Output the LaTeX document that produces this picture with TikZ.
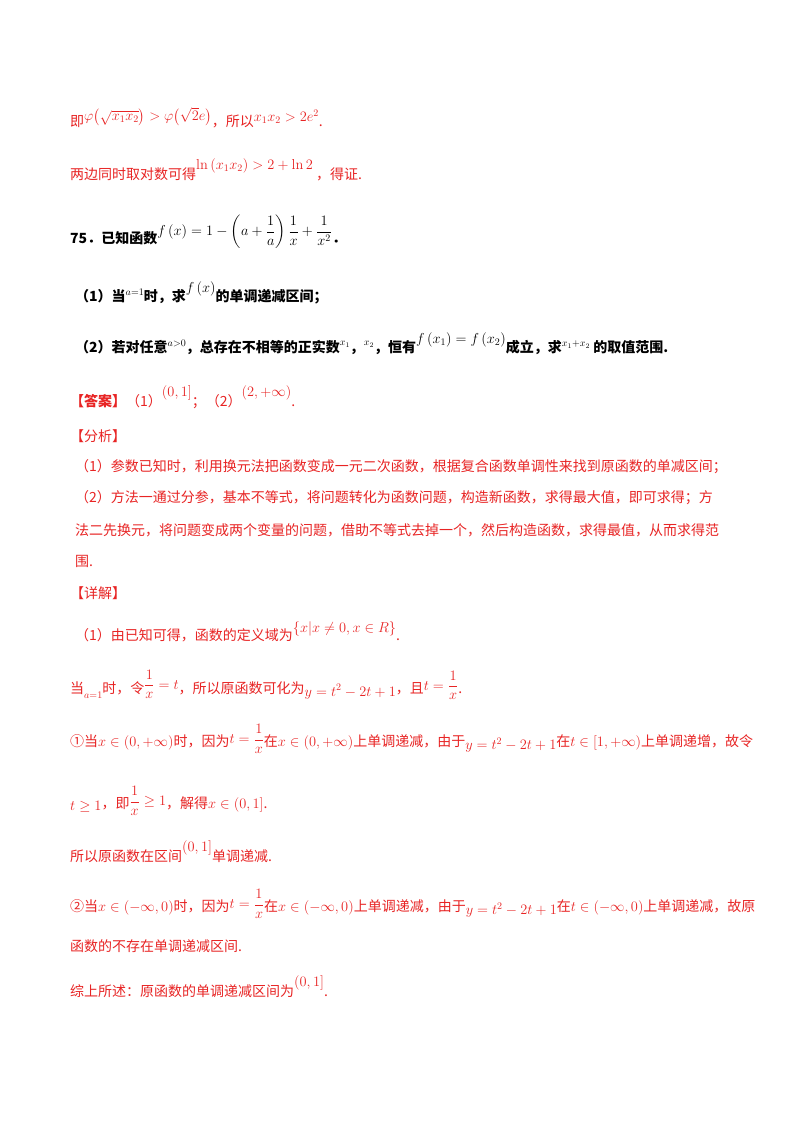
\documentclass[tikz,border=0pt]{standalone}
\usepackage[no-math]{fontspec}
\setmainfont{Noto Sans CJK SC}
\usepackage{amsmath,amssymb}
\definecolor{rd}{RGB}{232,36,36}
\newcommand{\up}[2][5pt]{\raisebox{#1}{$#2$}}
\begin{document}
\begin{tikzpicture}[x=1pt,y=-1pt,
  ln/.style={anchor=west,inner sep=0pt,font=\fontsize{14}{16}\selectfont},
  rl/.style={ln,text=rd},
  bl/.style={ln,text=black,font=\fontsize{14}{16}\selectfont\bfseries}]
\useasboundingbox[fill=white] (0,0) rectangle (800,1132);
\node[rl] (l1) at (70,118) {即\up[6pt]{\varphi\bigl(\sqrt{x_1x_2}\bigr)>\varphi\bigl(\sqrt{2}e\bigr)}，所以\up{x_1x_2>2e^2}.};
\node[rl] (l2) at (70,170) {两边同时取对数可得\up[10pt]{\ln\left(x_1x_2\right)>2+\ln2}\ ，得证.};
\node[bl] (l3) at (70,232) {75．已知函数\up[8pt]{f\left(x\right)=1-\left(a+\dfrac{1}{a}\right)\dfrac{1}{x}+\dfrac{1}{x^2}}．};
\node[bl] (l4) at (75,293) {（1）当\up[6pt]{\scriptstyle a=1}时，求\up[9pt]{f\left(x\right)}的单调递减区间；};
\node[bl] (l5) at (75,344) {（2）若对任意\up[6pt]{\scriptstyle a>0}，总存在不相等的正实数\up[7pt]{\scriptstyle x_1}，\up[7pt]{\scriptstyle x_2}，恒有\up[9pt]{f\left(x_1\right)=f\left(x_2\right)}成立，求\up[6pt]{\scriptstyle x_1+x_2}\ 的取值范围.};
\node[rl] (l6) at (70,397) {\textbf{【答案】}（1）\up[10pt]{\left(0,1\right]}；（2）\up[10pt]{\left(2,+\infty\right)}.};
\node[rl] (l7) at (70,436) {【分析】};
\node[rl] (l8) at (75,467) {（1）参数已知时，利用换元法把函数变成一元二次函数，根据复合函数单调性来找到原函数的单减区间；};
\node[rl] (l9) at (75,498) {（2）方法一通过分参，基本不等式，将问题转化为函数问题，构造新函数，求得最大值，即可求得；方};
\node[rl] (l10) at (75,530) {法二先换元，将问题变成两个变量的问题，借助不等式去掉一个，然后构造函数，求得最值，从而求得范};
\node[rl] (l11) at (75,561) {围.};
\node[rl] (l12) at (70,593) {【详解】};
\node[rl] (l13) at (75,632) {（1）由已知可得，函数的定义域为\up[8pt]{\left\{x\middle|x\neq0,x\in R\right\}}.};
\node[rl] (l14) at (70,685) {当\up[-5pt]{\scriptstyle a=1}时，令\up[4pt]{\dfrac{1}{x}=t}，所以原函数可化为\up[-3pt]{y=t^2-2t+1}，且\up[3pt]{t=\dfrac{1}{x}}.};
\node[rl] (l15) at (70,739) {①当\up[0pt]{x\in\left(0,+\infty\right)}时，因为\up[3pt]{t=\dfrac{1}{x}}在\up[0pt]{x\in\left(0,+\infty\right)}上单调递减，由于\up[-3pt]{y=t^2-2t+1}在\up[0pt]{t\in\left[1,+\infty\right)}上单调递增，故令};
\node[rl] (l16) at (70,801) {\up[-2pt]{t\geq1}，即\up[3pt]{\dfrac{1}{x}\geq1}，解得\up[0pt]{x\in\left(0,1\right]}.};
\node[rl] (l17) at (70,852) {所以原函数在区间\up[10pt]{\left(0,1\right]}单调递减.};
\node[rl] (l18) at (70,904) {②当\up[0pt]{x\in\left(-\infty,0\right)}时，因为\up[3pt]{t=\dfrac{1}{x}}在\up[0pt]{x\in\left(-\infty,0\right)}上单调递减，由于\up[-3pt]{y=t^2-2t+1}在\up[0pt]{t\in\left(-\infty,0\right)}上单调递减，故原};
\node[rl] (l19) at (70,946) {函数的不存在单调递减区间.};
\node[rl] (l20) at (70,987) {综上所述：原函数的单调递减区间为\up[10pt]{\left(0,1\right]}.};
\end{tikzpicture}
\end{document}
